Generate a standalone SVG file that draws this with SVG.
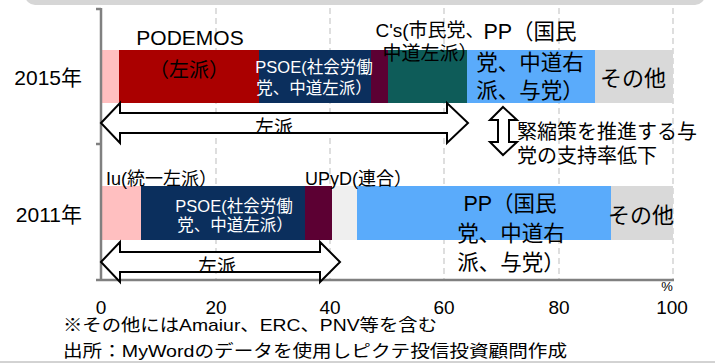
<svg xmlns="http://www.w3.org/2000/svg" width="715" height="363" viewBox="0 0 715 363">
  <style>
    text { font-family: "Liberation Sans", "Noto Sans CJK JP", sans-serif; fill: #000; }
    .jp { font-family: "Noto Sans CJK JP", "Liberation Sans", sans-serif; }
    .w { fill: #fff; }
    .grid { stroke: #d4d4d4; stroke-width: 1.5; stroke-dasharray: 6 4; fill: none; }
    .axis { stroke: #808080; stroke-width: 2.5; fill: none; }
    .arrow { fill: #fff; stroke: #000; stroke-width: 2; stroke-linejoin: miter; }
    .mid { text-anchor: middle; }
  </style>
  <defs>
    <clipPath id="clip15"><rect x="120" y="100" width="330" height="32"/></clipPath>
    <clipPath id="clip11"><rect x="120" y="240" width="200" height="31"/></clipPath>
  </defs>

  <!-- frame remnants -->
  <rect x="25" y="-30" width="680" height="35" rx="10" fill="#d6d6d6"/>
  <line x1="0" y1="362" x2="715" y2="362" stroke="#a6a6a6" stroke-width="1"/>

  <!-- gridlines -->
  <g id="grid">
    <line class="grid" x1="216" y1="8" x2="216" y2="280"/>
    <line class="grid" x1="330" y1="8" x2="330" y2="280"/>
    <line class="grid" x1="444" y1="8" x2="444" y2="280"/>
    <line class="grid" x1="559" y1="8" x2="559" y2="280"/>
    <line class="grid" x1="673" y1="8" x2="673" y2="280"/>
  </g>

  <!-- 2015 bar -->
  <g id="bar2015">
    <rect x="101" y="50" width="18" height="53" fill="#ffbfc0"/>
    <rect x="119" y="50" width="140" height="53" fill="#aa0000"/>
    <rect x="259" y="50" width="112" height="53" fill="#0b2f5d"/>
    <rect x="371" y="50" width="17" height="53" fill="#5c0033"/>
    <rect x="388" y="50" width="79" height="53" fill="#0e5c59"/>
    <rect x="467" y="50" width="128" height="53" fill="#5aabfb"/>
    <rect x="595" y="50" width="78" height="53" fill="#d9d9d9"/>
  </g>

  <!-- 2011 bar -->
  <g id="bar2011">
    <rect x="101" y="186" width="40" height="54" fill="#ffbfc0"/>
    <rect x="141" y="186" width="164" height="54" fill="#0b2f5d"/>
    <rect x="305" y="186" width="27" height="54" fill="#5c0033"/>
    <rect x="332" y="186" width="25" height="54" fill="#efefef"/>
    <rect x="357" y="186" width="254" height="54" fill="#5aabfb"/>
    <rect x="611" y="186" width="62" height="54" fill="#d9d9d9"/>
  </g>

  <!-- axes -->
  <g id="axes">
    <line class="axis" x1="101" y1="8" x2="101" y2="281"/>
    <line class="axis" x1="96" y1="9" x2="101" y2="9"/>
    <line class="axis" x1="96" y1="144" x2="101" y2="144"/>
    <line class="axis" x1="96" y1="280" x2="674" y2="280"/>
    <g font-size="19" class="mid">
      <text x="101" y="314">0</text>
      <text x="216" y="314">20</text>
      <text x="330" y="314">40</text>
      <text x="444" y="314">60</text>
      <text x="559" y="314">80</text>
      <text x="672" y="314">100</text>
    </g>
    <text x="667" y="291" font-size="13" class="mid">%</text>
  </g>

  <!-- year labels -->
  <g id="years" font-size="21">
    <text x="82" y="85" text-anchor="end">2015年</text>
    <text x="82" y="222" text-anchor="end">2011年</text>
  </g>

  <!-- 2015 segment labels -->
  <g id="label-podemos">
    <text x="190" y="45" font-size="21" class="mid">PODEMOS</text>
    <text x="189" y="77" font-size="20" class="jp mid">（左派）</text>
  </g>
  <g id="label-psoe2015" font-size="16.5">
    <text x="314" y="73" class="w mid">PSOE(社会労働</text>
    <text x="314" y="94" class="w mid">党、中道左派）</text>
  </g>
  <g id="label-cs" font-size="19">
    <text x="430" y="37" class="mid">C's(市民党、</text>
    <text x="430" y="60" class="mid">中道左派）</text>
  </g>
  <g id="label-pp2015" font-size="21.5">
    <text x="530" y="39" class="mid">PP（国民</text>
    <text x="530" y="70" class="mid">党、中道右</text>
    <text x="530" y="98" class="mid">派、与党）</text>
  </g>
  <g id="label-other2015">
    <text x="633" y="86" font-size="22" class="mid">その他</text>
  </g>

  <!-- 2011 segment labels -->
  <g id="label-iu">
    <text x="106" y="185" font-size="18">Iu(統一左派）</text>
  </g>
  <g id="label-upyd">
    <text x="305" y="185" font-size="18">UPyD(連合）</text>
  </g>
  <g id="label-psoe2011" font-size="16.5">
    <text x="234" y="212" class="w mid">PSOE(社会労働</text>
    <text x="235" y="231" class="w mid">党、中道左派）</text>
  </g>
  <g id="label-pp2011" font-size="21.5">
    <text x="510" y="211" class="mid">PP（国民</text>
    <text x="511" y="241" class="mid">党、中道右</text>
    <text x="511" y="270" class="mid">派、与党）</text>
  </g>
  <g id="label-other2011">
    <text x="641" y="223" font-size="22" class="mid">その他</text>
  </g>

  <!-- connectors: bracketing arrows -->
  <g id="connectors">
    <g id="arrow-left2015">
      <path class="arrow" d="M101,123 L120,103 L120,113 L447,113 L447,103 L468,123 L447,143 L447,133 L120,133 L120,143 Z"/>
      <text x="274" y="134" font-size="19" class="mid" clip-path="url(#clip15)">左派</text>
    </g>
    <g id="arrow-left2011">
      <path class="arrow" d="M101,262 L120,242 L120,252 L320,252 L320,242 L340,262 L320,282 L320,272 L120,272 L120,282 Z"/>
      <text x="217" y="273" font-size="19" class="mid" clip-path="url(#clip11)">左派</text>
    </g>
    <g id="arrow-support">
      <path class="arrow" d="M503,107 L517,120 L509,120 L509,142 L517,142 L503,155 L490,142 L498,142 L498,120 L490,120 Z"/>
    </g>
  </g>

  <!-- annotation -->
  <g id="note-support" font-size="20">
    <text x="517" y="139">緊縮策を推進する与</text>
    <text x="517" y="163">党の支持率低下</text>
  </g>

  <!-- footnotes -->
  <g id="footnotes" font-size="17">
    <text x="63" y="331" textLength="374" lengthAdjust="spacingAndGlyphs">※その他にはAmaiur、ERC、PNV等を含む</text>
    <text x="63" y="357" textLength="504" lengthAdjust="spacingAndGlyphs">出所：MyWordのデータを使用しピクテ投信投資顧問作成</text>
  </g>
</svg>
